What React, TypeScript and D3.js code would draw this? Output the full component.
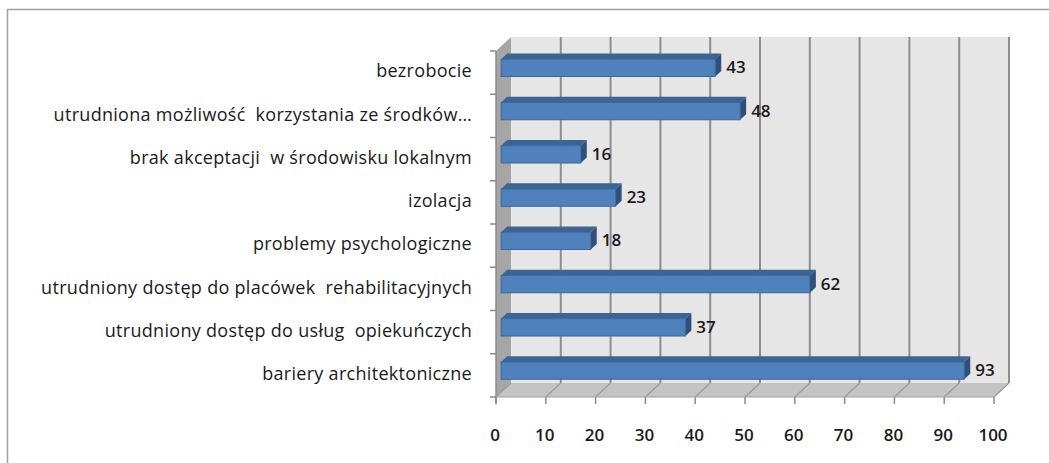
import React from "react";
import * as d3 from "d3";

const categories = [
  "bezrobocie",
  "utrudniona możliwość  korzystania ze środków…",
  "brak akceptacji  w środowisku lokalnym",
  "izolacja",
  "problemy psychologiczne",
  "utrudniony dostęp do placówek  rehabilitacyjnych",
  "utrudniony dostęp do usług  opiekuńczych",
  "bariery architektoniczne",
];
const values = [43, 48, 16, 23, 18, 62, 37, 93];
const xTicks = [0, 10, 20, 30, 40, 50, 60, 70, 80, 90, 100];

const W = 1049;
const H = 463;
// 3D depth offset of the back wall
const DX = 15;
const DY = -14;

export default function App() {
  const x = d3.scaleLinear().domain([0, 100]).range([496, 994]);
  const y = d3.scaleBand<string>().domain(categories).range([51, 397]).paddingInner(0).paddingOuter(0);
  const bw = y.bandwidth();
  const floorY = 397;
  const topY = 51;
  const t1 = 0.34;
  const t2 = 0.74;
  const barH = bw * 0.4;
  const pt = (px: number, py: number, t: number) => [px + DX * t, py + DY * t];
  const poly = (pts: number[][]) => pts.map((p) => p.join(",")).join(" ");
  const font = "'Open Sans', 'DejaVu Sans', sans-serif";

  return (
    <svg width={W} height={H} style={{ position: "absolute", left: 0, top: 0, display: "block" }}>
      <rect x={0} y={0} width={W} height={H} fill="#ffffff" />
      <rect x={7.5} y={9.5} width={W + 20} height={H + 20} fill="none" stroke="#a0a0a0" strokeWidth={1.5} />
      {/* back wall */}
      <rect x={x(0) + DX} y={topY + DY} width={x(100) - x(0)} height={floorY - topY} fill="#e6e6e6" />
      {/* left wall */}
      <polygon
        points={poly([[x(0), topY], pt(x(0), topY, 1), pt(x(0), floorY, 1), [x(0), floorY]])}
        fill="#a6a6a6"
      />
      {/* floor */}
      <polygon
        points={poly([[x(0), floorY], [x(100), floorY], pt(x(100), floorY, 1), pt(x(0), floorY, 1)])}
        fill="#c4c4c4"
      />
      {/* gridlines on back wall and floor */}
      {xTicks.map((t) => (
        <g key={"g" + t}>
          {t > 0 && (
            <line
              x1={x(t) + DX}
              x2={x(t) + DX}
              y1={topY + DY}
              y2={floorY + DY}
              stroke="#8e8e8e"
              strokeWidth={2}
            />
          )}
          <line x1={x(t)} y1={floorY} x2={x(t) + DX} y2={floorY + DY} stroke="#9a9a9a" strokeWidth={1.2} />
          <line x1={x(t)} y1={floorY} x2={x(t)} y2={floorY + 7} stroke="#8a8a8a" strokeWidth={1.5} />
          <text
            x={x(t) - 1}
            y={floorY + 44}
            textAnchor="middle"
            fontFamily={font}
            fontWeight={600}
            fontSize={17}
            fill="#1a1a1a"
          >
            {t}
          </text>
        </g>
      ))}
      {/* left axis line and ticks */}
      <line x1={x(0)} x2={x(0)} y1={topY} y2={floorY + 7} stroke="#8a8a8a" strokeWidth={1.5} />
      <line x1={x(0)} y1={floorY} x2={x(100)} y2={floorY} stroke="#a0a0a0" strokeWidth={1} />
      {d3.range(categories.length + 1).map((i) => (
        <line
          key={"ct" + i}
          x1={x(0) - 6}
          x2={x(0)}
          y1={topY + i * bw}
          y2={topY + i * bw}
          stroke="#8a8a8a"
          strokeWidth={1.5}
        />
      ))}
      {/* bars */}
      {categories.map((c, i) => {
        const v = values[i];
        const cy = (y(c) as number) + bw / 2;
        const yt = cy - barH / 2;
        const yb = cy + barH / 2;
        const x0 = x(0);
        const x1 = x(v);
        const f = (px: number, py: number) => pt(px, py, t1);
        const b = (px: number, py: number) => pt(px, py, t2);
        const ft = f(x0, yt);
        const fb = f(x1, yb);
        return (
          <g key={c}>
            <polygon points={poly([f(x0, yt), f(x1, yt), b(x1, yt), b(x0, yt)])} fill="#3c6494" />
            <polygon points={poly([f(x1, yt), b(x1, yt), b(x1, yb), f(x1, yb)])} fill="#2f507a" />
            <rect
              x={ft[0]}
              y={ft[1]}
              width={fb[0] - ft[0]}
              height={fb[1] - ft[1]}
              fill="#4f81bd"
              stroke="#3d6699"
              strokeWidth={1}
            />
            <text
              x={x1 + DX * t2 + 5}
              y={cy + DY * t1 + 1}
              dominantBaseline="middle"
              fontFamily={font}
              fontWeight={600}
              fontSize={17}
              fill="#1a1a1a"
            >
              {v}
            </text>
            <text
              x={472}
              y={cy}
              dominantBaseline="middle"
              textAnchor="end"
              fontFamily={font}
              fontSize={18}
              letterSpacing={0.3}
              fill="#1a1a1a"
              style={{ whiteSpace: "pre" }}
            >
              {c}
            </text>
          </g>
        );
      })}
    </svg>
  );
}
